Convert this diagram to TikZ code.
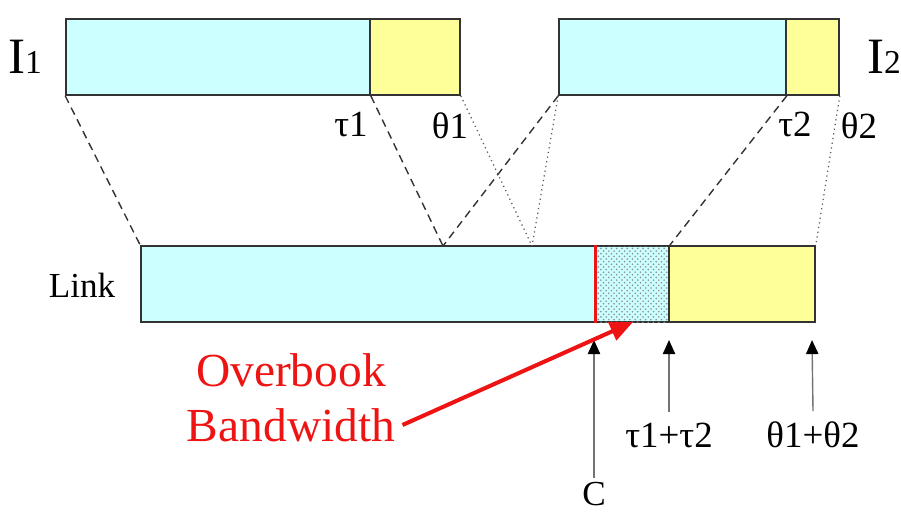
\documentclass[tikz,border=0pt]{standalone}
\usepackage{fontspec}
\setmainfont{Liberation Serif}
\usetikzlibrary{arrows.meta,patterns,fit}
\definecolor{pktcyan}{RGB}{204,255,255}
\definecolor{pktyellow}{RGB}{255,255,153}
\definecolor{overred}{RGB}{238,20,20}

\tikzset{
  seg/.style={draw=black!80,line width=0.9pt,inner sep=0pt},
  mapdash/.style={dashed,dash pattern=on 4.5pt off 3pt,line width=0.8pt,black!80},
  mapdot/.style={dotted,line width=0.7pt,black!65},
  tick/.style={black!55,line width=0.8pt,-{Triangle[black,length=8pt,width=7pt]}},
  lbl/.style={font=\fontsize{21}{24}\selectfont,inner sep=0pt}
}

\begin{document}
\begin{tikzpicture}[x=0.02cm,y=-0.02cm]
    \useasboundingbox (0,0) rectangle (901,512);

    % Interface 1
    \node[seg,fill=pktcyan,fit={(66,19) (370,95)}] (i1a) {};
    \node[seg,fill=pktyellow,fit={(370,19) (460,95)}] (i1b) {};
    \node[inner sep=0pt] (i1) at (25,57) {\fontsize{29}{30}\selectfont I{\fontsize{19}{20}\selectfont 1}};
    \node[lbl,anchor=north east] (tau1) at (368,112) {τ1};
    \node[lbl,anchor=north] (theta1) at (450,112) {θ1};

    % Interface 2
    \node[seg,fill=pktcyan,fit={(559,19) (786,95)}] (i2a) {};
    \node[seg,fill=pktyellow,fit={(786,19) (839,95)}] (i2b) {};
    \node[inner sep=0pt] (i2) at (884,57) {\fontsize{29}{30}\selectfont I{\fontsize{19}{20}\selectfont 2}};
    \node[lbl,anchor=north] (tau2) at (795,112) {τ2};
    \node[lbl,anchor=north] (theta2) at (859,112) {θ2};

    % Link
    \node[seg,fill=pktcyan,fit={(141,246) (596,322)}] (lka) {};
    \node[seg,fill=pktcyan,postaction={pattern=crosshatch dots,pattern color=black!45},
          fit={(596,246) (669,322)}] (lkb) {};
    \node[seg,fill=pktyellow,fit={(669,246) (815,322)}] (lkc) {};
    \node[inner sep=0pt,font=\fontsize{20}{24}\selectfont] (link) at (82,285) {Link};
    \draw[overred,line width=1.8pt] (lkb.north west) -- (lkb.south west);

    % Mapping
    \coordinate (mid1) at (443,246);
    \coordinate (mid2) at (532,246);
    \draw[mapdash] (i1a.south west) -- (lka.north west);
    \draw[mapdash] (i1a.south east) -- (mid1);
    \draw[mapdash] (i2a.south west) -- (mid1);
    \draw[mapdash] (i2a.south east) -- (lkb.north east);
    \draw[mapdot] (i1b.south east) -- (mid2);
    \draw[mapdot] (i2a.south west) -- (mid2);
    \draw[mapdot] (i2b.south east) -- (lkc.north east);

    % Marks below the link
    \coordinate (ctip) at (594,340);
    \coordinate (tsumtip) at (669,340);
    \coordinate (thsumtip) at (812,340);
    \node[lbl,font=\fontsize{20}{24}\selectfont] (cap) at (594,494) {C};
    \node[lbl] (tsum) at (669,435) {τ1+τ2};
    \node[lbl] (thsum) at (813,435) {θ1+θ2};
    \draw[tick] ([yshift=2pt]cap.north) -- (ctip);
    \draw[tick] ([yshift=6pt]tsum.north) -- (tsumtip);
    \draw[tick] ([yshift=6pt]thsum.north) -- (thsumtip);

    % Overbook
    \coordinate (ovtip) at (633,322);
    \node[inner sep=0pt,overred,font=\fontsize{27}{32}\selectfont] (ov1) at (291,370) {Overbook};
    \node[inner sep=0pt,overred,font=\fontsize{27}{32}\selectfont] (ov2) at (291,425) {Bandwidth};
    \draw[overred,line width=2.3pt,-{Triangle[length=13pt,width=11pt]}] ([xshift=4pt]ov2.east) -- (ovtip);
\end{tikzpicture}
\end{document}
